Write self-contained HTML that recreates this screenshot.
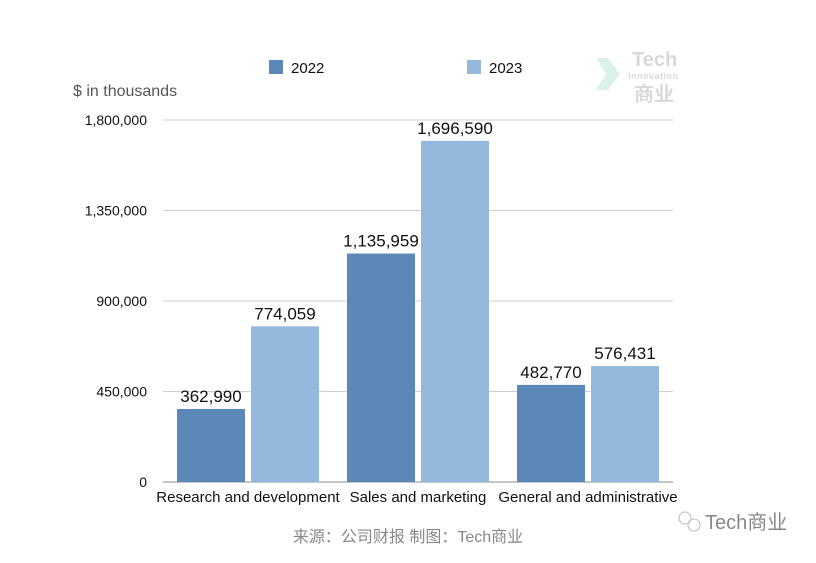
<!DOCTYPE html>
<html><head><meta charset="utf-8"><style>
body{margin:0;background:#fff;}
svg text{font-family:"Liberation Sans","Noto Sans CJK SC",sans-serif;}
</style></head><body>
<svg width="816" height="558" viewBox="0 0 816 558" xmlns="http://www.w3.org/2000/svg">
<g id="grid"></g>
<g id="yticks"></g>
<g id="bars"></g>
<g id="xlabels"></g>
<text x="73" y="96" font-size="16" fill="#555">$ in thousands</text>
<g>
<g><rect x="269" y="60" width="14" height="14" fill="#5b87b9"/><text x="291" y="73" font-size="15" fill="#111">2022</text></g>
<g><rect x="467" y="60" width="14" height="14" fill="#95b9dc"/><text x="489" y="73" font-size="15" fill="#111">2023</text></g>
</g>
<g opacity="0.55">
<path d="M596 58 L608 58 L620 74 L608 90 L596 90 L606 74 Z" fill="#bfe9d8"/>
<text x="632" y="66" font-size="20" font-weight="bold" fill="#bbb" font-family="Liberation Serif">Tech</text>
<text x="628" y="79" font-size="9" font-weight="bold" fill="#bbb" letter-spacing="0.5">Innovation</text>
<text x="634" y="101" font-size="20" font-weight="bold" fill="#bbb">商业</text>
</g>
<text x="408" y="542" font-size="16" fill="#888" text-anchor="middle">来源：公司财报 制图：Tech商业</text>
<g>
<circle cx="685" cy="518" r="6" fill="none" stroke="#bbb" stroke-width="1"/>
<circle cx="694" cy="525" r="6" fill="none" stroke="#bbb" stroke-width="1"/>
<text x="705" y="529" font-size="20" fill="#888">Tech商业</text>
</g>
</svg>
<script>
const categories=["Research and development","Sales and marketing","General and administrative"];
const values2022=[362990,1135959,482770];
const values2023=[774059,1696590,576431];
const yTicks=[0,450000,900000,1350000,1800000];
const tickLabels=["0","450,000","900,000","1,350,000","1,800,000"];
const NS="http://www.w3.org/2000/svg";
const x0=163,x1=673,yb=482,yt=120,ymax=1800000;
const y=v=>yb-(v/ymax)*(yb-yt);
const bw=(x1-x0)/categories.length;
function mk(t,a,p){const e=document.createElementNS(NS,t);for(const k in a)e.setAttribute(k,a[k]);p.appendChild(e);return e;}
const grid=document.getElementById('grid'),yt_=document.getElementById('yticks'),bars=document.getElementById('bars'),xl=document.getElementById('xlabels');
yTicks.forEach((v,i)=>{
 const l=mk('line',{x1:x0,x2:x1,y1:y(v),y2:y(v),stroke:i==0?'#888':'#d0d0d0','stroke-width':1},grid);
 
 
 const t=mk('text',{x:147,y:y(v)+5,'font-size':14,fill:'#111','text-anchor':'end'},yt_);
 t.textContent=tickLabels[i];
 
 
});
const fmt=v=>v.toLocaleString('en-US');
categories.forEach((c,i)=>{
 const cx=x0+bw*(i+0.5);
 [[values2022[i],'#5b87b9',cx-71],[values2023[i],'#95b9dc',cx+3]].forEach((d,j)=>{
  const r=mk('rect',{x:d[2],y:y(d[0]),width:68,height:yb-y(d[0]),fill:d[1]},bars);
  
  
  const t=mk('text',{x:d[2]+34,y:y(d[0])-7,'font-size':17,fill:'#111','text-anchor':'middle'},bars);
  t.textContent=fmt(d[0]);
  
  
 });
 const t=mk('text',{x:cx,y:502,'font-size':15,fill:'#111','text-anchor':'middle'},xl);
 t.textContent=c;
 
 
});
</script>
</body></html>
